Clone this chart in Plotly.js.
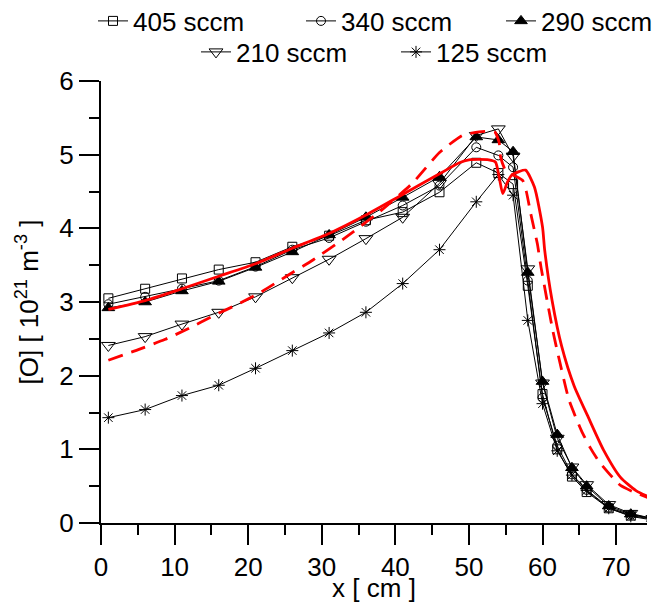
<!DOCTYPE html>
<html><head><meta charset="utf-8">
<script src="https://cdn.plot.ly/plotly-3.0.1.min.js"></script>
<style>html,body{margin:0;padding:0;background:#fff}</style>
</head><body><div id="chart" style="width:654px;height:603px"></div>
<script>
// Measured points (x in cm)
const xMeas = [1,6,11,16,21,26,31,36,41,46,51,54,56,58,60,62,64,66,69,72,75];
const y405 = [3.05,3.18,3.32,3.44,3.54,3.75,3.90,4.11,4.22,4.49,4.89,4.75,4.60,3.22,1.75,1.00,0.63,0.42,0.20,0.10,0.05];
const y340 = [2.97,3.07,3.18,3.29,3.48,3.71,3.87,4.09,4.31,4.58,5.10,4.99,4.83,3.29,1.70,1.05,0.66,0.45,0.21,0.11,0.06];
const y290 = [2.92,3.00,3.15,3.28,3.47,3.68,3.91,4.15,4.42,4.70,5.24,5.20,5.04,3.40,1.92,1.20,0.75,0.50,0.23,0.12,0.06];
const y210 = [2.41,2.53,2.70,2.86,3.07,3.33,3.58,3.86,4.15,4.61,5.26,5.35,4.98,3.45,1.90,1.15,0.76,0.52,0.25,0.13,0.06];
const y125 = [1.43,1.54,1.73,1.87,2.10,2.34,2.58,2.86,3.25,3.71,4.36,4.73,4.45,2.75,1.62,0.98,0.65,0.44,0.20,0.09,0.04];
const seriesNames = ["405 sccm","340 sccm","290 sccm","210 sccm","125 sccm"];

// Model curves
const xModelSolid = [1,6,11,16,21,26,31,36,41,46,48.7,50,52.7,53.6,54.1,54.6,55.2,55.8,56.8,57.7,58.9,60,60.3,61.3,62.6,64.3,66.2,68.3,70.6,72.7,75];
const yModelSolid = [2.90,3.02,3.18,3.35,3.52,3.73,3.93,4.18,4.46,4.74,4.89,4.93,4.93,4.90,4.70,4.47,4.62,4.72,4.77,4.79,4.56,4.02,3.70,3.02,2.40,1.86,1.44,0.99,0.62,0.44,0.33];
const xModelDash = [1,5.25,8.65,11.9,15.2,18.6,22,25.2,28.8,33.3,37.8,42.3,46,49.1,51.4,53.5,54.1,54.3,55,56.5,57.3,57.8,58.4,59.3,59.8,61.4,62.2,63.6,65.3,66.5,67.7,69.5,70.6,72.4,75];
const yModelDash = [2.21,2.36,2.49,2.64,2.81,2.97,3.15,3.35,3.57,3.88,4.22,4.61,5.03,5.26,5.31,5.31,5.17,4.97,4.78,4.70,4.65,4.50,4.20,3.79,3.47,2.61,2.25,1.67,1.25,1.02,0.83,0.62,0.51,0.42,0.32];

const FONT = "Liberation Sans, Arial, Helvetica, sans-serif";
const blk = {color:"#000", width:1};
function meas(name, y, sym, size, legend){
  return {x:xMeas, y:y, name:name, type:"scatter", mode:"lines+markers", legend:legend,
    line:blk, marker:{symbol:sym, size:size, color:"#000", line:{color:"#000", width:1}}};
}
const data = [
  meas(seriesNames[0], y405, "square-open", 9, "legend"),
  meas(seriesNames[1], y340, "circle-open", 9, "legend2"),
  meas(seriesNames[2], y290, "triangle-up", 11, "legend3"),
  meas(seriesNames[3], y210, "triangle-down-open", 12, "legend4"),
  meas(seriesNames[4], y125, "asterisk-open", 10, "legend5"),
  {x:xModelSolid, y:yModelSolid, type:"scatter", mode:"lines", showlegend:false,
   line:{color:"#ff0000", width:2.8, shape:"spline", smoothing:0.6}},
  {x:xModelDash, y:yModelDash, type:"scatter", mode:"lines", showlegend:false,
   line:{color:"#ff0000", width:2.8, dash:"15px,9px", shape:"spline", smoothing:0.5}}
];
function leg(textLeft, yc){
  return {orientation:"h", xref:"container", yref:"container", xanchor:"left", yanchor:"middle",
    x:(textLeft-40)/654, y:1-yc/603,
    font:{family:FONT, size:26, color:"#000"}, bgcolor:"rgba(0,0,0,0)", borderwidth:0};
}
const layout = {
  width:654, height:603,
  margin:{l:101, r:7, t:81, b:80},
  paper_bgcolor:"#fff", plot_bgcolor:"#fff",
  font:{family:FONT, size:26, color:"#000"},
  showlegend:true,
  legend:leg(133,21), legend2:leg(341,21), legend3:leg(541,21),
  legend4:leg(236,52), legend5:leg(436,52),
  xaxis:{range:[0,74.2], tickmode:"linear", tick0:0, dtick:10, ticks:"outside", ticklen:20, tickwidth:2,
    tickcolor:"#000", showline:true, linewidth:2, linecolor:"#000", showgrid:false, zeroline:false,
    minor:{dtick:5, tick0:0, ticks:"outside", ticklen:10, tickwidth:2, tickcolor:"#000", showgrid:false},
    tickfont:{family:FONT, size:26}, title:{text:"x [ cm ]", font:{family:FONT, size:26}, standoff:14}},
  yaxis:{range:[0,6], tickmode:"linear", tick0:0, dtick:1, ticks:"outside", ticklen:20, tickwidth:2,
    tickcolor:"#000", showline:true, linewidth:2, linecolor:"#000", showgrid:false, zeroline:false,
    minor:{dtick:0.5, tick0:0, ticks:"outside", ticklen:10, tickwidth:2, tickcolor:"#000", showgrid:false},
    tickfont:{family:FONT, size:26},
    title:{text:"[O] [ 10<sup>21</sup> m<sup>-3</sup> ]", font:{family:FONT, size:26}}},
  xaxis2:{overlaying:"x", side:"top", anchor:"y", range:[0,74.2], tickmode:"linear", tick0:0, dtick:5,
    ticks:"inside", ticklen:5, tickwidth:1.5, tickcolor:"#000", showticklabels:false, showline:true,
    linewidth:2, linecolor:"#000", showgrid:false, zeroline:false},
  yaxis2:{overlaying:"y", side:"right", anchor:"x", range:[0,6], tickmode:"linear", tick0:0, dtick:0.5,
    ticks:"inside", ticklen:5, tickwidth:1.5, tickcolor:"#000", showticklabels:false, showline:true,
    linewidth:2, linecolor:"#000", showgrid:false, zeroline:false}
};
Plotly.newPlot("chart", data, layout, {staticPlot:true, displayModeBar:false});
</script></body></html>
